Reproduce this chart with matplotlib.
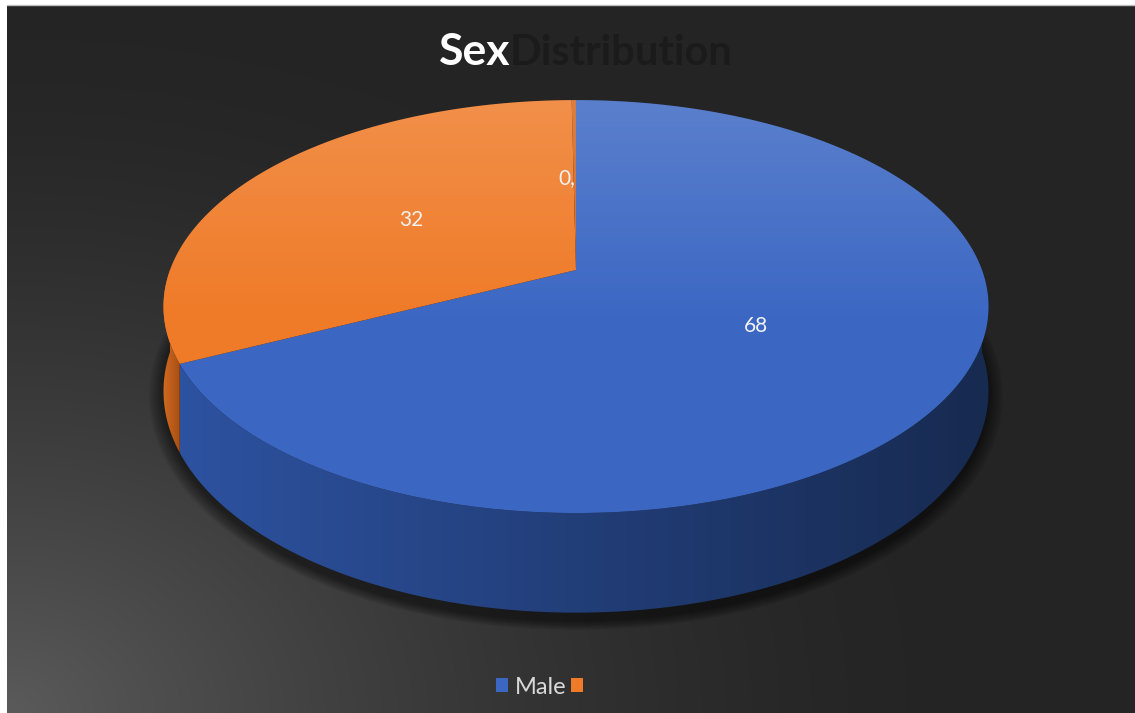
import numpy as np
import matplotlib.pyplot as plt
from matplotlib.patches import Polygon, Patch
from matplotlib.colors import LinearSegmentedColormap

# data
categories = ["Male", "", ""]
values = [68, 32, 0.2]
value_labels = ["68", "32", "0,"]
legend_labels = ["Male", ""]

top_colors = ["#3b67c3", "#ef7a27", "#d5661c"]
side_colors = [("#2d52a0", "#172a50"), ("#d06a20", "#a84f15"), ("#b0541a", "#a04c16")]
label_ha = ["center", "center", "right"]

W, H = 1135, 713
cx, cy = 576, 270       # projected centre of the top face
rx, k = 406, 200        # horizontal radius, vertical scale
persp = 0.177           # simple perspective factor
depth = 82

fig = plt.figure(figsize=(W / 100, H / 100), dpi=100, facecolor="white")
ax = fig.add_axes([0, 0, 1, 1])

# background gradient (lighter towards bottom-left)
yy, xx = np.mgrid[0:H, 0:W]
d = np.hypot(xx * 0.9, (yy - H) * 1.2)
shade = 0.145 + 0.21 * np.clip(1 - d / 820, 0, 1) ** 1.5
ax.imshow(np.dstack([shade] * 3), extent=(7, W, H, 5), zorder=0, aspect="auto")
ax.plot([7, W], [5, 5], color="#bdbdbd", lw=1, zorder=1)


def pt(theta_deg, r=1.0, down=False):
    t = np.radians(theta_deg)
    X, Z = r * np.cos(t), r * np.sin(t)
    s = 1.0 / (1 + persp * Z)
    y = cy - k * Z * s
    if down:
        y += depth * s
    return cx + rx * X * s, y


def gradient_fill(poly, c1, c2, zorder):
    x0, y0 = poly.min(axis=0)
    x1, y1 = poly.max(axis=0)
    cmap = LinearSegmentedColormap.from_list("g", [c1, c2])
    img = np.linspace(0, 1, 256)[None, :]
    im = ax.imshow(img, cmap=cmap, extent=(x0, x1, y1, y0), aspect="auto", zorder=zorder)
    patch = Polygon(poly, closed=True, facecolor="none", edgecolor="none", zorder=zorder)
    ax.add_patch(patch)
    im.set_clip_path(patch)


# shadow under the pie
base = np.array([pt(t, down=True) for t in np.linspace(0, 360, 400)])
ctr = base.mean(axis=0)
for j in range(10):
    sc = 1.035 - j * 0.004
    ax.add_patch(Polygon((base - ctr) * [sc, sc * 1.02] + ctr + [0, 4], closed=True,
                         facecolor="black", alpha=0.06, edgecolor="none", zorder=2))

total = sum(values)
start = 90.0
spans = []
for v in values:
    end = start - 360.0 * v / total
    spans.append((end, start))
    start = end

# side walls (front half only)
for i, (a2, a1) in enumerate(spans):
    for lo_f, hi_f in [(-180, 0), (180, 360), (-540, -360)]:
        lo, hi = max(a2, lo_f), min(a1, hi_f)
        if hi - lo <= 0:
            continue
        th = np.linspace(lo, hi, 200)
        top = np.array([pt(t) for t in th])
        bot = np.array([pt(t, down=True) for t in th[::-1]])
        gradient_fill(np.vstack([top, bot]), side_colors[i][0], side_colors[i][1], zorder=3)

# top faces
for i, (a2, a1) in enumerate(spans):
    th = np.linspace(a1, a2, 300)
    poly = np.vstack([[cx, cy], np.array([pt(t) for t in th])])
    ax.add_patch(Polygon(poly, closed=True, facecolor=top_colors[i], edgecolor="none", zorder=4))

# soft highlight on top surface
full = np.array([pt(t) for t in np.linspace(0, 360, 400)])
fx0, fy0 = full.min(axis=0)
fx1, fy1 = full.max(axis=0)
hl = np.zeros((256, 1, 4))
hl[..., :3] = 1.0
hl[:, 0, 3] = np.clip(0.16 * (1 - np.linspace(0, 1, 256) / 0.55), 0, None)
im = ax.imshow(hl, extent=(fx0, fx1, fy1, fy0), aspect="auto", zorder=5)
clip = Polygon(full, closed=True, facecolor="none", edgecolor="none", zorder=5)
ax.add_patch(clip)
im.set_clip_path(clip)

# value labels
for i, (a2, a1) in enumerate(spans):
    lx, ly = pt((a1 + a2) / 2, r=0.5)
    ax.text(lx, ly, value_labels[i], color="#f2f2f2", fontsize=15, family="Lato",
            ha=label_ha[i], va="center", zorder=6)

# title
ax.text(510, 65, "Sex", color="white", fontsize=32, family="Lato", fontweight="bold",
        ha="right", va="baseline", zorder=6)
ax.text(510, 65, "Distribution", color="#1b1b1b", fontsize=30, family="Lato",
        fontweight="bold", ha="left", va="baseline", zorder=6)

ax.set_xlim(0, W)
ax.set_ylim(H, 0)
ax.axis("off")

handles = [Patch(facecolor=top_colors[i], edgecolor="none") for i in range(len(legend_labels))]
leg = fig.legend(handles, legend_labels, loc="center", bbox_to_anchor=(543 / W, 1 - 687 / H),
                 ncol=2, frameon=False, handlelength=0.5, handleheight=0.5,
                 handletextpad=0.3, columnspacing=0.2, prop={"family": "Lato", "size": 17})
for t in leg.get_texts():
    t.set_color("#d9d9d9")

plt.savefig("out.png", dpi=100, facecolor="white")
